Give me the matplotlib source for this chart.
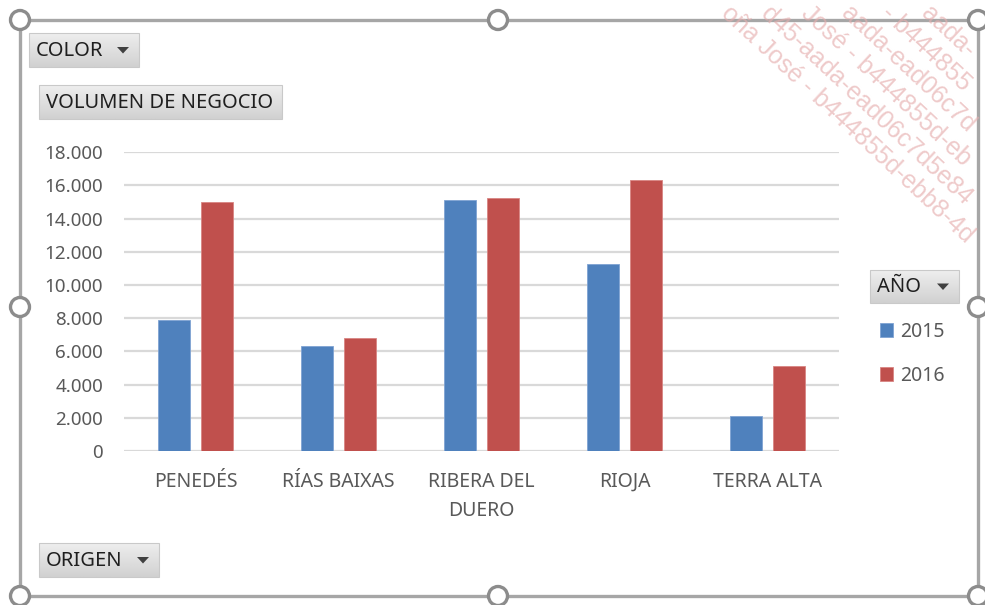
import numpy as np
import matplotlib
matplotlib.use("Agg")
import matplotlib.pyplot as plt
from matplotlib.patches import Rectangle, Circle, Polygon
from matplotlib.ticker import FuncFormatter

plt.rcParams['font.family'] = ['Noto Sans', 'DejaVu Sans']

# ---- data ----
categories = ["PENEDÉS", "RÍAS BAIXAS", "RIBERA DEL\nDUERO", "RIOJA", "TERRA ALTA"]
years = ["2015", "2016"]
ventas_2015 = [7900, 6300, 15100, 11250, 2100]
ventas_2016 = [15000, 6800, 15250, 16350, 5100]
y_ticks = list(range(0, 18001, 2000))

BLUE = "#4F81BD"
RED = "#C0504D"
TXT = "#595959"
GRID = "#D9D9D9"

W, H = 985, 605
fig = plt.figure(figsize=(W / 100, H / 100), dpi=100)
fig.patch.set_facecolor("white")


def fx(x):
    return x / W


def fy(y):
    return 1 - y / H


# ---- bar chart ----
left, right, top, bottom = 124, 839, 152.3, 451
ax = fig.add_axes([fx(left), fy(bottom), (right - left) / W, (bottom - top) / H])
ax.set_zorder(1)
x = np.arange(len(categories))
bw = 0.224
off = 0.147
b1 = ax.bar(x - off, ventas_2015, width=bw, color=BLUE, edgecolor="#7FA3D3",
            linewidth=0.6, zorder=3, label=years[0])
b2 = ax.bar(x + off, ventas_2016, width=bw, color=RED, edgecolor="#D88583",
            linewidth=0.6, zorder=3, label=years[1])
ax.set_xlim(-0.5, len(categories) - 0.5)
ax.set_ylim(0, 18000)
ax.set_yticks(y_ticks)
ax.yaxis.set_major_formatter(FuncFormatter(lambda v, p: f"{int(v):,}".replace(",", ".")))
ax.set_xticks(x)
ax.set_xticklabels(categories, linespacing=1.6)
ax.grid(axis="y", color=GRID, linewidth=1.6, zorder=0)
ax.set_axisbelow(True)
for s in ax.spines.values():
    s.set_visible(False)
ax.tick_params(axis="both", length=0, colors=TXT)
ax.tick_params(axis="y", pad=15, labelsize=13.5)
ax.tick_params(axis="x", pad=15, labelsize=14)

# ---- frame, buttons, legend and handles (pixel coordinates) ----
ov = fig.add_axes([0, 0, 1, 1])
ov.set_zorder(5)
ov.patch.set_alpha(0)
ov.axis("off")

FRAME = "#A6A6A6"
fl, ft, fr, fb = 20, 20, 978, 596
ov.plot([fl, fr, fr, fl, fl], [ft, ft, fb, fb, ft], color=FRAME, lw=2.4,
        solid_joinstyle="miter", zorder=2)
mx, my = 498, 307
for cx, cy in [(fl, ft), (mx, ft), (fr, ft), (fl, my), (fr, my),
               (fl, fb), (mx, fb), (fr, fb)]:
    ov.add_patch(Circle((cx, cy), 9.5, facecolor="white", edgecolor="#8C8C8C",
                        lw=2.4, zorder=4))

grad = np.linspace(0.93, 0.82, 32)[:, None] * np.ones((1, 2))


def button(x0, y0, x1, y1, label, arrow=True):
    ov.imshow(grad, cmap="gray", vmin=0, vmax=1, extent=(x0, x1, y1, y0),
              aspect="auto", zorder=3, interpolation="bilinear")
    ov.add_patch(Rectangle((x0, y0), x1 - x0, y1 - y0, fill=False,
                           edgecolor="#C9C9C9", lw=0.8, zorder=3.5))
    ov.text(x0 + 7, (y0 + y1) / 2 + 1, label, fontsize=14.5, color="#1F1F1F",
            ha="left", va="center", zorder=4)
    if arrow:
        ax_r = x1 - 10
        cyy = (y0 + y1) / 2
        ov.add_patch(Polygon([(ax_r - 12, cyy - 3), (ax_r, cyy - 3), (ax_r - 6, cyy + 3.5)],
                             closed=True, facecolor="#404040", edgecolor="none", zorder=4))


button(29, 33, 139, 67, "COLOR")
button(39, 85, 282, 119, "VOLUMEN DE NEGOCIO", arrow=False)
button(870, 270, 959, 303, "AÑO")
button(39, 543, 159, 577, "ORIGEN")

leg = fig.legend(handles=[b1, b2], labels=years, loc="upper left",
                 bbox_to_anchor=(fx(866), fy(308)), frameon=False, fontsize=14,
                 handlelength=0.7, handleheight=0.7, handletextpad=0.35,
                 labelspacing=1.25, borderpad=0.2)
for t in leg.get_texts():
    t.set_color(TXT)

ov.set_xlim(0, W)
ov.set_ylim(H, 0)

# ---- diagonal watermark, each line trimmed to end inside the canvas ----
wm_lines = [
    (733, "oña José - b444855d-ebb8-4d45-aada"),
    (773, "d45-aada-ead06c7d5e84 - b444855d"),
    (813, "José - b444855d-ebb8-4d45-aada"),
    (853, "aada-ead06c7d5e84 - b444855d"),
    (893, "- b444855d-ebb8-4d45-aada"),
    (933, "aada-ead06c7d5e84"),
]
renderer = fig.canvas.get_renderer()
for x0, s in wm_lines:
    while s:
        t = ov.text(x0, 1, s, rotation=-43, rotation_mode="anchor", ha="left", va="top",
                    fontsize=18, color="#E6AEAE", alpha=0.65, zorder=6,
                    family=["Liberation Sans", "DejaVu Sans"])
        bb = t.get_window_extent(renderer)
        if bb.x1 <= W - 1 and bb.y0 >= 1:
            break
        t.remove()
        s = s[:-1]

fig.savefig("out.png", dpi=100)
